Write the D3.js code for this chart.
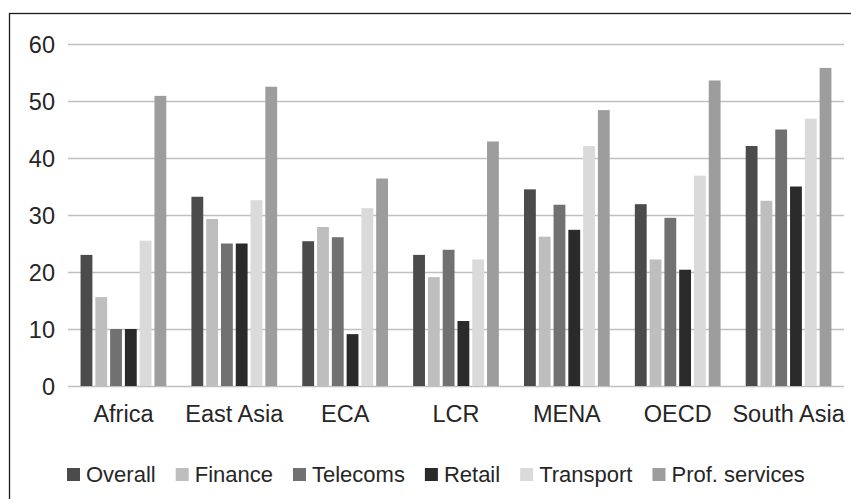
<!DOCTYPE html>
<html><head><meta charset="utf-8">
<script src="https://cdn.jsdelivr.net/npm/d3@7"></script>
<style>
html,body{margin:0;padding:0;background:#fff;}
svg{display:block;}
text{font-family:"Liberation Sans",Arial,sans-serif;fill:#262626;}
</style></head>
<body>
<svg id="chart" width="851" height="499"></svg>
<script>
const categories = ["Africa","East Asia","ECA","LCR","MENA","OECD","South Asia"];
const seriesNames = ["Overall","Finance","Telecoms","Retail","Transport","Prof. services"];
const overall   = [23.0, 33.2, 25.4, 23.0, 34.5, 31.9, 42.1];
const finance   = [15.6, 29.3, 27.9, 19.1, 26.2, 22.2, 32.5];
const telecoms  = [10.0, 25.0, 26.1, 23.9, 31.8, 29.5, 45.0];
const retail    = [10.0, 25.0,  9.1, 11.4, 27.4, 20.4, 35.0];
const transport = [25.5, 32.6, 31.2, 22.2, 42.1, 36.9, 46.9];
const profServices = [50.9, 52.5, 36.4, 42.9, 48.4, 53.6, 55.8];
const yTicks = [0,10,20,30,40,50,60];
const colors = ["#4b4b4b","#bebebe","#717171","#2a2a2a","#dadada","#9d9d9d"];

const seriesValues = [overall, finance, telecoms, retail, transport, profServices];

const svg = d3.select("#chart");
// frame (top and left edges visible)
svg.append("rect").attr("x",9.5).attr("y",13.5).attr("width",900).attr("height",600)
  .attr("fill","none").attr("stroke","#1a1a1a").attr("stroke-width",1.3);

const plotL = 68, plotR = 844, plotT = 44, plotB = 386;
const y = d3.scaleLinear().domain([0,60]).range([plotB, plotT]);
const x0 = d3.scaleBand().domain(categories).range([plotL, plotR]);
const groupW = x0.bandwidth() * 0.8;
const x1 = d3.scaleBand().domain(seriesNames)
  .range([(x0.bandwidth()-groupW)/2, (x0.bandwidth()+groupW)/2])
  .paddingInner(0.2).paddingOuter(0.1);

// gridlines via axis
const yAxis = d3.axisLeft(y).tickValues(yTicks).tickSize(-(plotR-plotL)).tickPadding(14);
const gy = svg.append("g").attr("transform",`translate(${plotL},0)`).call(yAxis);
gy.select(".domain").remove();
gy.selectAll(".tick line").attr("stroke","#c0c0c0").attr("stroke-width",1.4);
gy.selectAll(".tick text").style("font-size","23.5px").attr("fill","#262626")
  .attr("dy","0.36em").attr("x",-13);

// bars
const groups = svg.append("g").selectAll("g").data(categories).join("g")
  .attr("transform", d => `translate(${x0(d)},0)`);
groups.selectAll("rect")
  .data((c,i) => seriesNames.map((s,j) => ({s, v: seriesValues[j][i], j})))
  .join("rect")
  .attr("x", d => x1(d.s))
  .attr("width", x1.bandwidth())
  .attr("y", d => y(d.v))
  .attr("height", d => y(0) - y(d.v))
  .attr("fill", d => colors[d.j]);

// x axis labels
const xAxis = d3.axisBottom(x0).tickSize(0).tickPadding(19);
const gx = svg.append("g").attr("transform",`translate(0,${plotB})`).call(xAxis);
gx.select(".domain").remove();
gx.selectAll(".tick text").style("font-size","23.5px").attr("fill","#262626");

// legend
const legend = svg.append("g").attr("transform","translate(67,0)");
let lx = 0;
seriesNames.forEach((s,j) => {
  const g = legend.append("g").attr("transform",`translate(${lx},0)`);
  g.append("rect").attr("x",0).attr("y",468).attr("width",13).attr("height",13).attr("fill",colors[j]);
  const t = g.append("text").attr("x",19).attr("y",481.5).style("font-size","22px").text(s);
  const w = t.node().getComputedTextLength();
  lx += 19 + w + 20;
});
</script>
</body></html>
